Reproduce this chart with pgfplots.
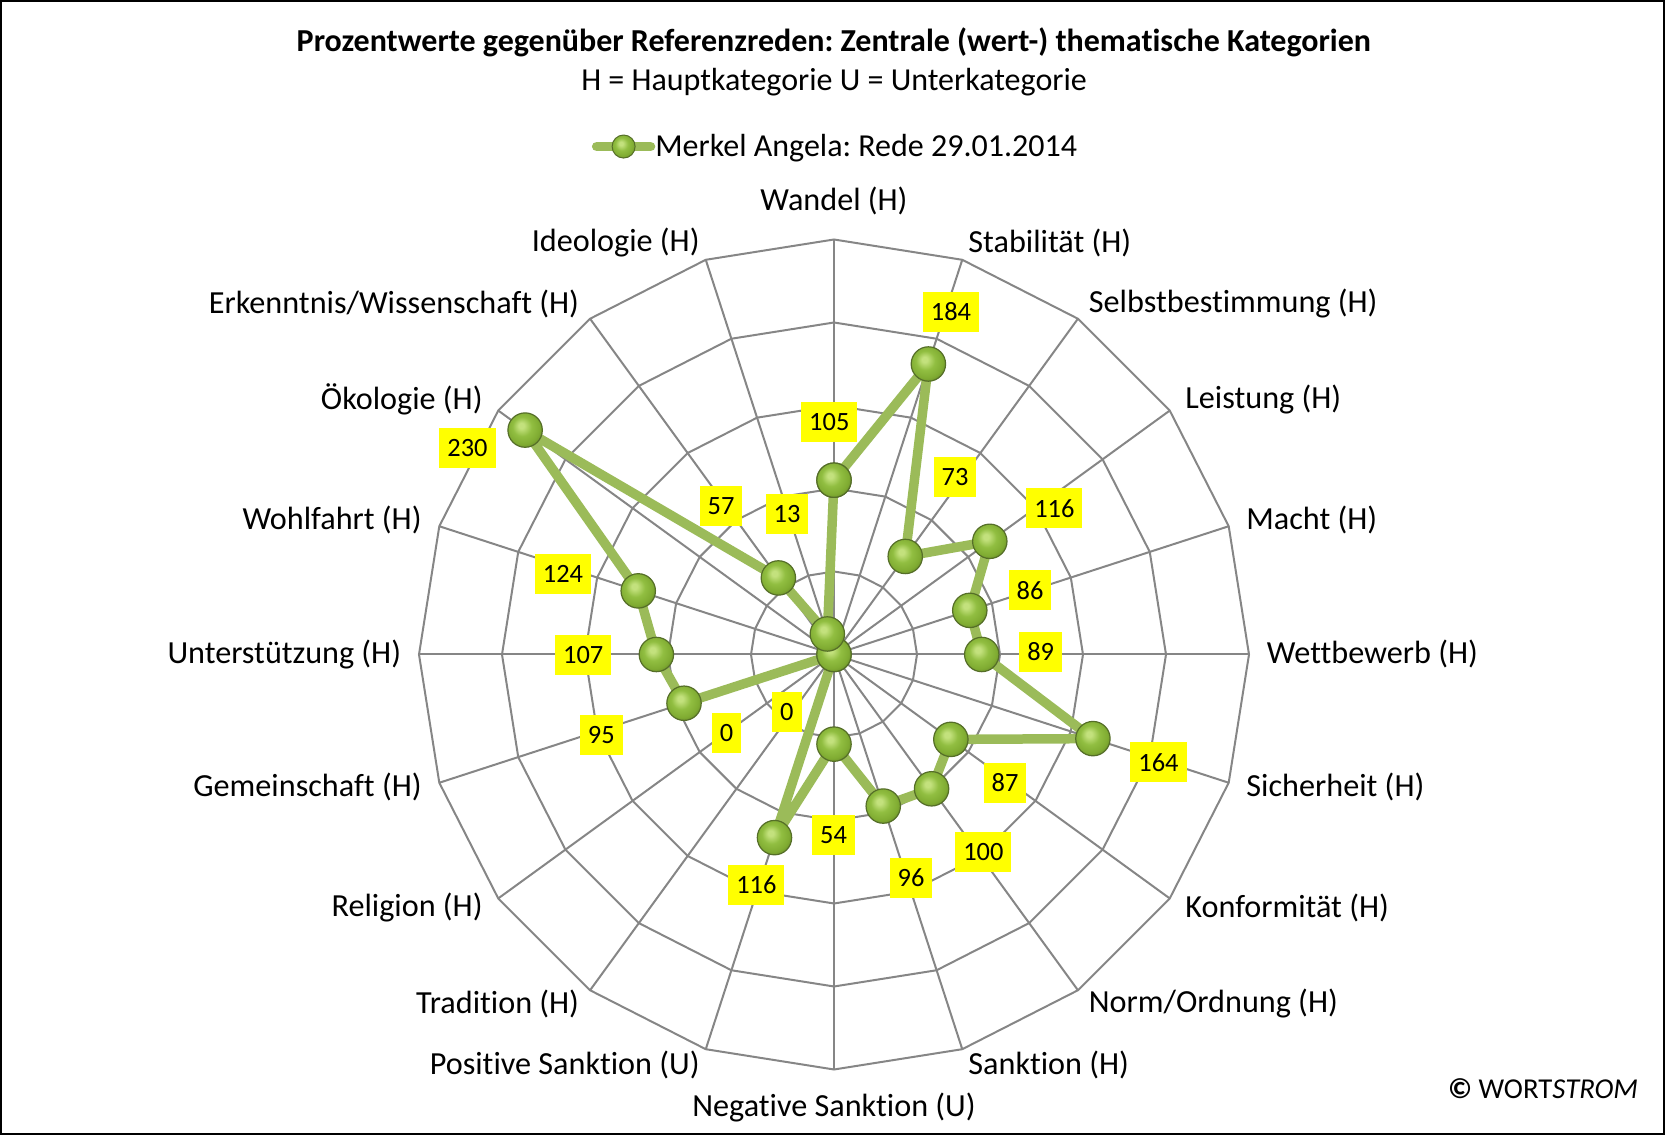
\documentclass[border=0pt]{standalone}
\usepackage{pgfplots}
\pgfplotsset{compat=1.18}
\usepackage{pgfplotstable}
\usepackage{fontspec}
\setmainfont{Carlito}[Ligatures={NoCommon}]
\frenchspacing
\definecolor{lgreen}{RGB}{155,187,89}
\definecolor{gbHL}{RGB}{195,225,125}
\definecolor{gbMid}{RGB}{145,190,65}
\definecolor{gbLow}{RGB}{128,172,50}
\definecolor{gbDark}{RGB}{98,130,38}
\definecolor{balldark}{RGB}{85,110,40}
\definecolor{gridgray}{RGB}{134,134,134}
\definecolor{lblyellow}{RGB}{255,255,0}

\pgfdeclareradialshading{greenball}{\pgfpoint{-6bp}{7bp}}{%
  color(0bp)=(gbHL); color(4bp)=(gbHL); color(14bp)=(gbMid); color(24bp)=(gbLow);
  color(33bp)=(gbDark); color(50bp)=(gbDark)}

\pgfdeclareplotmark{gball}{\shadedraw[shading=greenball, draw=balldark, line width=0.6pt] (0pt,0pt) circle (\pgfplotmarksize);}

\pgfplotstableread{
i v
0 105
1 184
2 73
3 116
4 86
5 89
6 164
7 87
8 100
9 96
10 54
11 116
12 0
13 0
14 95
15 107
16 124
17 230
18 57
19 13
20 105
}\datatable

\newcommand{\lblfont}{\fontsize{16.1pt}{19pt}\selectfont}
\newcommand{\ttlfont}{\fontsize{16pt}{19pt}\selectfont}
\newcommand{\dlfont}{\fontsize{13.2pt}{15pt}\selectfont}

\begin{document}
\begin{tikzpicture}
\path (0,0) rectangle (832.5pt,567.5pt);
\begin{axis}[
  at={(417pt,240.25pt)}, anchor=center,
  x=0.83pt, y=0.83pt,
  xmin=-250, xmax=250, ymin=-250, ymax=250,
  hide axis, clip=false,
  legend style={at={(0.2078,1.112)}, anchor=west, draw=none, fill=none,
    inner sep=0pt, nodes={inner sep=0pt}, font=\ttlfont},
  legend image code/.code={
    \path[draw=none, fill=none] (0pt,-6pt) rectangle (31.75pt,6pt);
    \draw[lgreen, line width=4.75pt, line cap=round] (2.4pt,0pt) -- (29.35pt,0pt);
    \shadedraw[shading=greenball, draw=balldark, line width=0.5pt] (15.875pt,0pt) circle (5.75pt);
  },
]
\pgfplotsinvokeforeach{0,...,19}{
  \draw[gridgray, line width=1pt] (axis cs:0,0) -- (axis cs:{250*sin(18*#1)},{250*cos(18*#1)});
}
\pgfplotsinvokeforeach{50,100,150,200,250}{
  \draw[gridgray, line width=1pt] (axis cs:0,#1) \foreach \k in {1,...,19}{ -- (axis cs:{#1*sin(18*\k)},{#1*cos(18*\k)})} -- cycle;
}
\addplot[lgreen, line width=4.75pt, line join=round, mark=gball, mark size=8.6pt]
  table[x expr={\thisrow{v}*sin(18*\thisrow{i})}, y expr={\thisrow{v}*cos(18*\thisrow{i})}] {\datatable};
\addlegendentry{Merkel Angela: Rede 29.01.2014}
\end{axis}

\begin{scope}[x=0.5pt, y=-0.5pt, yshift=567.5pt]
  % frame
  \draw[black, line width=1pt] (1,1) rectangle (1664,1134);
  % title
  \node[font=\ttlfont\bfseries, inner sep=0pt] at (834,42.5) {Prozentwerte gegenüber Referenzreden: Zentrale (wert-) thematische Kategorien};
  \node[font=\ttlfont, inner sep=0pt] at (834,81.8) {H = Hauptkategorie U = Unterkategorie};
  % category labels
  \begin{scope}[every node/.style={font=\lblfont, inner sep=0pt}]
    \node at (834,201) {Wandel (H)};
    \node[anchor=west] at (968,243) {Stabilität (H)};
    \node[anchor=west] at (1088.5,303.7) {Selbstbestimmung (H)};
    \node[anchor=west] at (1185,399.3) {Leistung (H)};
    \node[anchor=west] at (1246,520.3) {Macht (H)};
    \node[anchor=west] at (1266.5,654.1) {Wettbewerb (H)};
    \node[anchor=west] at (1246,786.9) {Sicherheit (H)};
    \node[anchor=west] at (1185,907.9) {Konformität (H)};
    \node[anchor=west] at (1088.5,1003.5) {Norm/Ordnung (H)};
    \node[anchor=west] at (968,1065.1) {Sanktion (H)};
    \node at (834,1107.6) {Negative Sanktion (U)};
    \node[anchor=east] at (700,1065.1) {Positive Sanktion (U)};
    \node[anchor=east] at (579.5,1003.5) {Tradition (H)};
    \node[anchor=east] at (483,907.9) {Religion (H)};
    \node[anchor=east] at (422,786.9) {Gemeinschaft (H)};
    \node[anchor=east] at (401.5,654.1) {Unterstützung (H)};
    \node[anchor=east] at (422,520.3) {Wohlfahrt (H)};
    \node[anchor=east] at (483,399.3) {Ökologie (H)};
    \node[anchor=east] at (579.5,303.7) {Erkenntnis/Wissenschaft (H)};
    \node[anchor=east] at (700,243) {Ideologie (H)};
  \end{scope}
  % data labels
  \begin{scope}[every node/.style={font=\dlfont, fill=lblyellow, inner xsep=4pt, inner ysep=0pt, minimum height=20pt, text=black}]
    \node at (829.3,421.6) {105};
    \node at (951,312) {184};
    \node at (955,477.5) {73};
    \node at (1054.4,508.5) {116};
    \node at (1030,590.4) {86};
    \node at (1040.7,652) {89};
    \node at (1158.5,762.4) {164};
    \node at (1005,783) {87};
    \node at (983.4,851.6) {100};
    \node at (911,877.8) {96};
    \node at (833.6,835) {54};
    \node at (756.4,885) {116};
    \node at (786.8,712) {0};
    \node at (726.5,733) {0};
    \node at (601.3,735) {95};
    \node at (583.2,654.8) {107};
    \node at (563,573.6) {124};
    \node at (467.5,448) {230};
    \node at (721,506) {57};
    \node at (787,514) {13};
  \end{scope}
  % copyright
  \node[font=\fontsize{14.4pt}{17pt}\selectfont, anchor=east, inner sep=0pt] at (1638.5,1088.5) {\textbf{©} WORT\textit{STROM}};
\end{scope}
\end{tikzpicture}
\end{document}
